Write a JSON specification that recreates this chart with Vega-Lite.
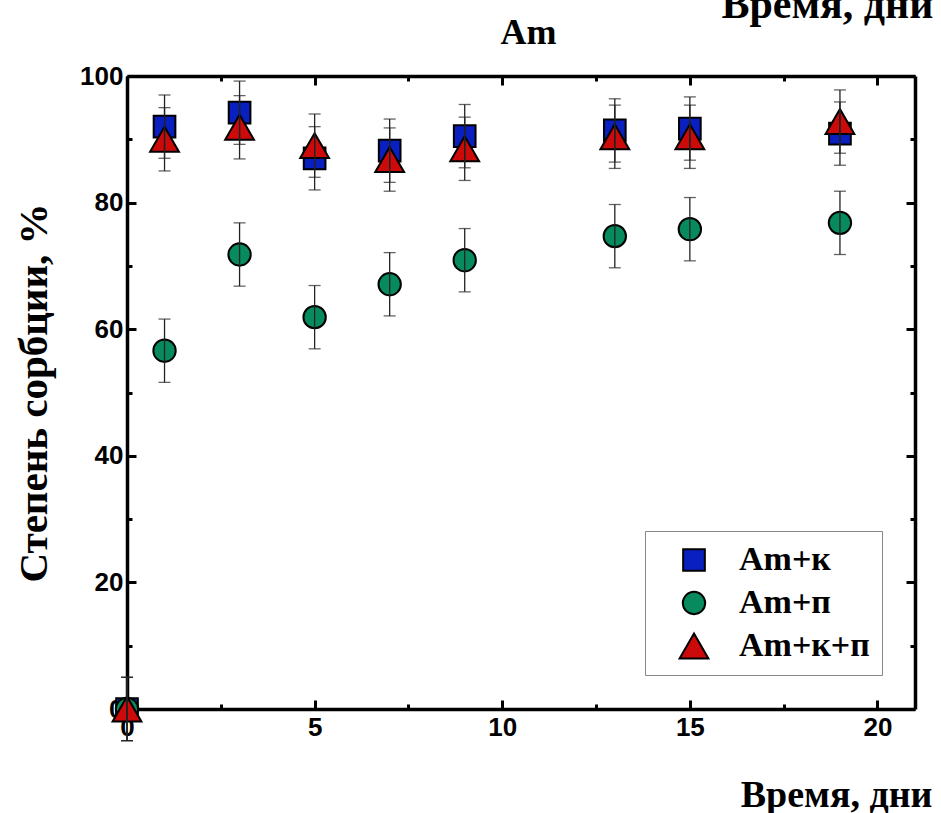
{
  "$schema": "https://vega.github.io/schema/vega-lite/v6.json",
  "autosize": {"type": "none"},
  "padding": {"left": 127, "top": 76, "right": 26, "bottom": 104},
  "width": 788,
  "height": 633,
  "background": "white",
  "config": {
    "view": {"stroke": null},
    "axis": {
      "domainColor": "black",
      "domainWidth": 3.5,
      "tickColor": "black",
      "tickWidth": 3,
      "grid": false,
      "labelFont": "Liberation Sans",
      "labelFontWeight": "bold",
      "labelFontSize": 26,
      "labelColor": "black",
      "titleFont": "Liberation Serif",
      "titleFontWeight": "bold",
      "titleColor": "black"
    },
    "legend": {
      "padding": 12, "symbolOffset": 20, "labelOffset": 28, "rowPadding": 9,
      "labelFont": "Liberation Serif", "labelFontWeight": "bold", "labelFontSize": 34, "labelColor": "black",
      "strokeColor": "#888888", "fillColor": "white",
      "symbolStrokeColor": "black", "symbolStrokeWidth": 2
    }
  },
  "data": {
    "values": [
      {"day": 0, "series": "Am+к", "v": 0, "lo": -5, "hi": 5},
      {"day": 1, "series": "Am+к", "v": 92, "lo": 87, "hi": 97},
      {"day": 3, "series": "Am+к", "v": 94.2, "lo": 89.2, "hi": 99.2},
      {"day": 5, "series": "Am+к", "v": 87, "lo": 82, "hi": 92},
      {"day": 7, "series": "Am+к", "v": 88.2, "lo": 83.2, "hi": 93.2},
      {"day": 9, "series": "Am+к", "v": 90.5, "lo": 85.5, "hi": 95.5},
      {"day": 13, "series": "Am+к", "v": 91.4, "lo": 86.4, "hi": 96.4},
      {"day": 15, "series": "Am+к", "v": 91.7, "lo": 86.7, "hi": 96.7},
      {"day": 19, "series": "Am+к", "v": 90.9, "lo": 85.9, "hi": 95.9},
      {"day": 0, "series": "Am+п", "v": 0, "lo": -5, "hi": 5},
      {"day": 1, "series": "Am+п", "v": 56.6, "lo": 51.6, "hi": 61.6},
      {"day": 3, "series": "Am+п", "v": 71.8, "lo": 66.8, "hi": 76.8},
      {"day": 5, "series": "Am+п", "v": 61.9, "lo": 56.9, "hi": 66.9},
      {"day": 7, "series": "Am+п", "v": 67.1, "lo": 62.1, "hi": 72.1},
      {"day": 9, "series": "Am+п", "v": 70.9, "lo": 65.9, "hi": 75.9},
      {"day": 13, "series": "Am+п", "v": 74.7, "lo": 69.7, "hi": 79.7},
      {"day": 15, "series": "Am+п", "v": 75.8, "lo": 70.8, "hi": 80.8},
      {"day": 19, "series": "Am+п", "v": 76.8, "lo": 71.8, "hi": 81.8},
      {"day": 0, "series": "Am+к+п", "v": 0, "lo": -5, "hi": 5},
      {"day": 1, "series": "Am+к+п", "v": 90, "lo": 85, "hi": 95},
      {"day": 3, "series": "Am+к+п", "v": 91.9, "lo": 86.9, "hi": 96.9},
      {"day": 5, "series": "Am+к+п", "v": 89, "lo": 84, "hi": 94},
      {"day": 7, "series": "Am+к+п", "v": 86.8, "lo": 81.8, "hi": 91.8},
      {"day": 9, "series": "Am+к+п", "v": 88.5, "lo": 83.5, "hi": 93.5},
      {"day": 13, "series": "Am+к+п", "v": 90.4, "lo": 85.4, "hi": 95.4},
      {"day": 15, "series": "Am+к+п", "v": 90.4, "lo": 85.4, "hi": 95.4},
      {"day": 19, "series": "Am+к+п", "v": 92.8, "lo": 87.8, "hi": 97.8}
    ]
  },
  "resolve": {"axis": {"x": "independent", "y": "independent"}},
  "layer": [
    {
      "mark": {"type": "point", "filled": true, "stroke": "black", "strokeWidth": 2, "opacity": 1},
      "encoding": {
        "x": {"field": "day", "type": "quantitative",
          "scale": {"domain": [0, 21], "nice": false, "zero": false},
          "axis": {"orient": "bottom", "values": [0, 5, 10, 15, 20], "tickSize": -9, "labelPadding": 14,
            "labelFlush": false, "labelOverlap": false,
            "title": "Время, дни", "titleFontSize": 38, "titleX": 805, "titleY": 97,
            "titleAlign": "right", "titleAnchor": null, "titleBaseline": "alphabetic"}},
        "y": {"field": "v", "type": "quantitative",
          "scale": {"domain": [0, 100], "nice": false},
          "axis": {"orient": "left", "values": [0, 20, 40, 60, 80, 100], "tickSize": -9, "labelPadding": 13,
            "labelFlush": false, "labelOverlap": false,
            "title": "Степень сорбции, %", "titleFontSize": 41, "titleX": -81, "titleY": 316.5,
            "titleAngle": -90, "titleAlign": "center", "titleBaseline": "alphabetic"}},
        "shape": {"field": "series", "type": "nominal",
          "scale": {"domain": ["Am+к", "Am+п", "Am+к+п"], "range": ["square", "circle", "triangle-up"]},
          "legend": {"title": null, "orient": "none", "legendX": 518, "legendY": 455}},
        "color": {"field": "series", "type": "nominal",
          "scale": {"domain": ["Am+к", "Am+п", "Am+к+п"], "range": ["#0a1fbf", "#068a5e", "#cc0a0a"]},
          "legend": {"title": null, "orient": "none", "legendX": 518, "legendY": 455}},
        "size": {"field": "series", "type": "nominal",
          "scale": {"type": "ordinal", "domain": ["Am+к", "Am+п", "Am+к+п"], "range": [470, 500, 830]},
          "legend": {"title": null, "orient": "none", "legendX": 518, "legendY": 455}}
      }
    },
    {
      "mark": {"type": "rule", "color": "#222222", "strokeWidth": 1.3},
      "encoding": {
        "x": {"field": "day", "type": "quantitative",
          "scale": {"domain": [0, 21], "nice": false, "zero": false},
          "axis": {"orient": "top", "values": [0, 5, 10, 15, 20], "tickSize": -9, "labels": false,
            "title": "Am", "titleFontSize": 36, "titleX": 401, "titleY": -33,
            "titleAlign": "center", "titleBaseline": "alphabetic"}},
        "y": {"field": "lo", "type": "quantitative",
          "scale": {"domain": [0, 100], "nice": false},
          "axis": {"orient": "right", "values": [0, 20, 40, 60, 80, 100], "tickSize": -9, "labels": false, "title": null}},
        "y2": {"field": "hi"}
      }
    },
    {
      "mark": {"type": "tick", "orient": "horizontal", "color": "#222222", "thickness": 1.3, "size": 12},
      "encoding": {
        "x": {"field": "day", "type": "quantitative",
          "scale": {"domain": [0, 21], "nice": false, "zero": false},
          "axis": {"orient": "bottom", "values": [2.5, 7.5, 12.5, 17.5], "tickSize": -5, "labels": false, "domain": false, "title": null}},
        "y": {"field": "lo", "type": "quantitative",
          "scale": {"domain": [0, 100], "nice": false},
          "axis": {"orient": "left", "values": [10, 30, 50, 70, 90], "tickSize": -5, "labels": false, "domain": false, "title": null}}
      }
    },
    {
      "mark": {"type": "tick", "orient": "horizontal", "color": "#222222", "thickness": 1.3, "size": 12},
      "encoding": {
        "x": {"field": "day", "type": "quantitative",
          "scale": {"domain": [0, 21], "nice": false, "zero": false},
          "axis": {"orient": "top", "values": [2.5, 7.5, 12.5, 17.5], "tickSize": -5, "labels": false, "domain": false,
            "title": "Время, дни", "titleFontSize": 42, "titleX": 806, "titleY": -59,
            "titleAlign": "right", "titleBaseline": "alphabetic"}},
        "y": {"field": "hi", "type": "quantitative",
          "scale": {"domain": [0, 100], "nice": false},
          "axis": {"orient": "right", "values": [10, 30, 50, 70, 90], "tickSize": -5, "labels": false, "domain": false, "title": null}}
      }
    }
  ]
}
